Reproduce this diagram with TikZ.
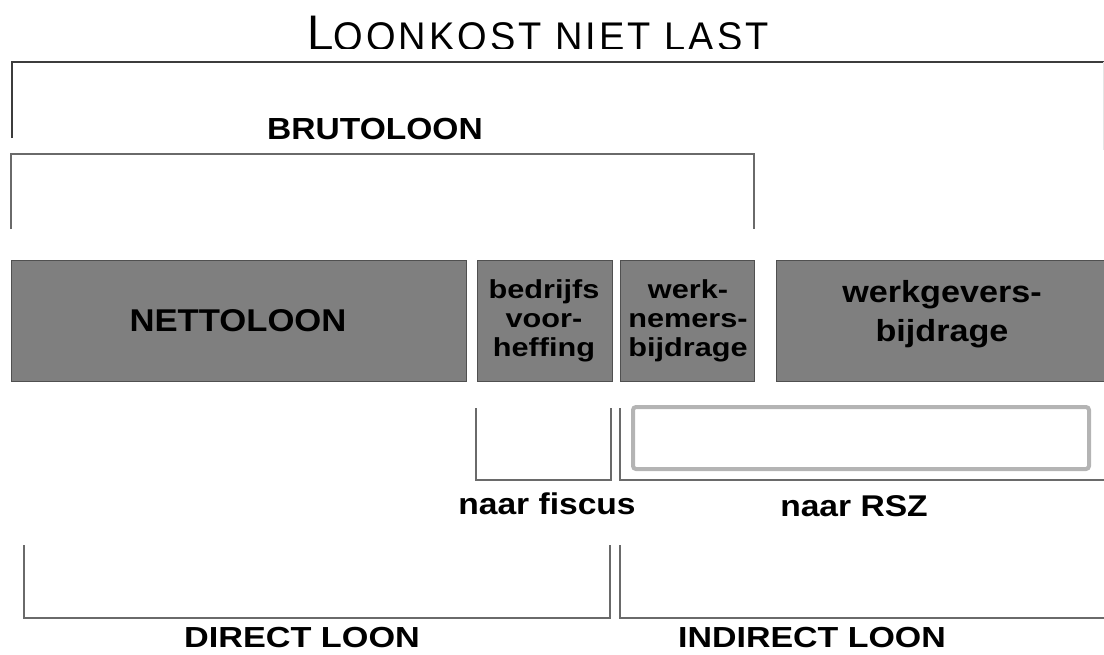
\documentclass[tikz,border=0pt]{standalone}
\usepackage{fontspec}
\setmainfont{Liberation Sans}
\newfontfamily\titlefont[LetterSpace=8]{Liberation Sans}
\usepackage{graphicx}
\definecolor{boxfill}{HTML}{7F7F7F}
\definecolor{boxline}{HTML}{505050}
\definecolor{brkline}{HTML}{6A6A6A}
\definecolor{topline}{HTML}{3C3C3C}
\definecolor{rszgray}{HTML}{B4B4B4}
\newcommand{\wtxt}[3]{\scalebox{#1}[1]{\fontsize{#2}{#2}\selectfont\bfseries #3}}
\newcommand{\mtxt}[4]{\scalebox{#1}[1]{\fontsize{#2}{#3}\selectfont\bfseries\begin{tabular}[t]{@{}c@{}}#4\end{tabular}}}
\begin{document}
\begin{tikzpicture}[x=1pt,y=-1pt,
  box/.style={draw=boxline, fill=boxfill, line width=1pt, inner sep=0pt, anchor=north west},
  lbl/.style={inner sep=0pt, anchor=base, text=black},
  brk/.style={draw=brkline, line width=1.6pt},
  topbrk/.style={draw=topline, line width=2pt}]
\useasboundingbox (0,0) rectangle (1104,654);
% title
\begin{scope}
\clip (0,0) rectangle (1104,48);
\node[lbl] (title) at (538,50) {\scalebox{0.95}[1]{\titlefont\fontsize{50}{50}\selectfont L\fontsize{40}{40}\selectfont OONKOST NIET LAST}};
\end{scope}
% top bracket
\draw[topbrk] (12,138) -- (12,62) -- (1104,62);
\draw[draw=black!10, line width=1pt] (1103,62) -- (1103,150);
\node[lbl] (bruto) at (375,139) {\wtxt{1.1}{30.5}{BRUTOLOON}};
\draw[brk] (11,229) -- (11,154) -- (754,154) -- (754,229);
% boxes
\node[box, minimum width=455pt, minimum height=121pt] (netto) at (11,260) {};
\node[box, minimum width=135pt, minimum height=121pt] (bv) at (477,260) {};
\node[box, minimum width=134pt, minimum height=121pt] (wn) at (620,260) {};
\node[box, minimum width=340pt, minimum height=121pt] (wg) at (776,260) {};
\node[lbl] (tnetto) at (238,331) {\wtxt{1.1}{31.5}{NETTOLOON}};
\node[lbl] (tbv) at (544,298) {\mtxt{1.18}{26}{29}{bedrijfs\\voor-\\heffing}};
\node[lbl] (twn) at (688,298) {\mtxt{1.18}{26}{29}{werk-\\nemers-\\bijdrage}};
\node[lbl] (twg) at (942,302) {\mtxt{1.12}{30.5}{39}{werkgevers-\\bijdrage}};
% fiscus / RSZ
\draw[brk] (476,408) -- (476,480) -- (611,480) -- (611,408);
\draw[brk] (620,408) -- (620,480) -- (1104,480);
\draw[draw=rszgray, line width=4pt, rounded corners=3pt] (633,407) rectangle (1089,469);
\node[lbl] (fiscus) at (547,514) {\wtxt{1.12}{30}{naar fiscus}};
\node[lbl] (rsz) at (854,516) {\wtxt{1.12}{30}{naar RSZ}};
% direct / indirect
\draw[brk] (24,545) -- (24,618) -- (610,618) -- (610,545);
\draw[brk] (620,545) -- (620,618) -- (1104,618);
\node[lbl] (direct) at (302,647) {\wtxt{1.18}{29}{DIRECT LOON}};
\node[lbl] (indirect) at (812,647) {\wtxt{1.17}{29}{INDIRECT LOON}};
\end{tikzpicture}
\end{document}
